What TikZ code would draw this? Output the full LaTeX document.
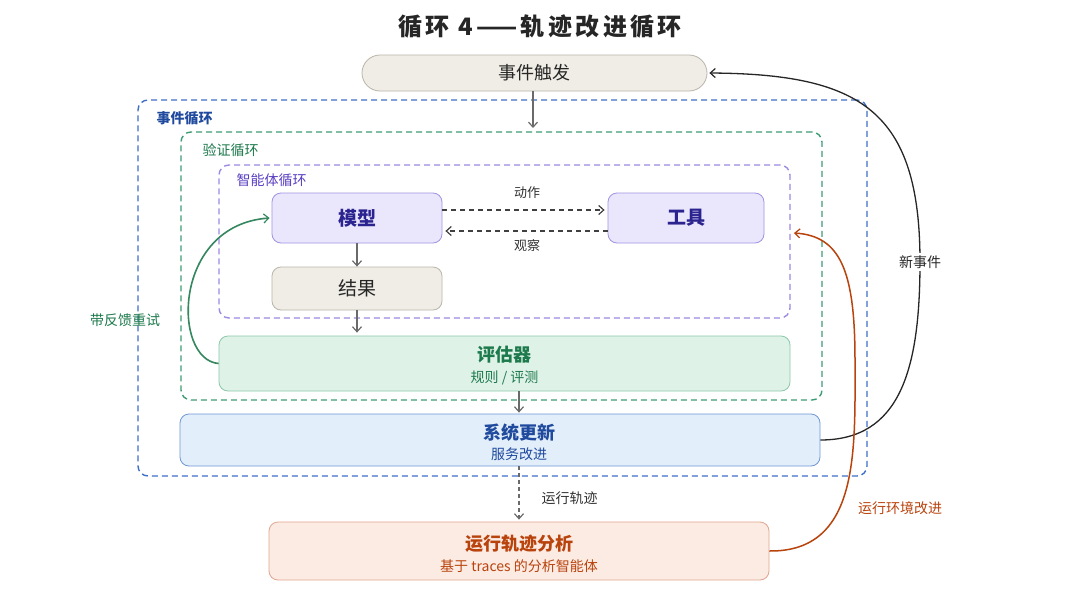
\documentclass[tikz,border=0pt]{standalone}
\usepackage{fontspec}
\setmainfont{Noto Sans CJK SC}
\usetikzlibrary{arrows.meta}
\definecolor{cBlue}{HTML}{3F70C8}
\definecolor{cBlueT}{HTML}{1F4A9E}
\definecolor{cGreen}{HTML}{3E9C74}
\definecolor{cGreenT}{HTML}{1D7A4C}
\definecolor{cPurp}{HTML}{9D8AE2}
\definecolor{cPurpT}{HTML}{5A3EC2}
\definecolor{cNavy}{HTML}{2B2390}
\definecolor{cOrange}{HTML}{B9430D}
\definecolor{fBeige}{HTML}{EFEDE5}
\definecolor{bBeige}{HTML}{B9B5AA}
\definecolor{fLav}{HTML}{EAE7FC}
\definecolor{bLav}{HTML}{A293E3}
\definecolor{fGreen}{HTML}{DFF2E8}
\definecolor{bGreen}{HTML}{8DC8A9}
\definecolor{fBlue}{HTML}{E3EEFB}
\definecolor{bBlue}{HTML}{7098D4}
\definecolor{fOr}{HTML}{FCEBE3}
\definecolor{bOr}{HTML}{E0A690}
\definecolor{cArrow}{HTML}{6A6A6A}
\tikzset{
  tip/.style={-{Straight Barb[length=5pt,width=9pt,line width=1.2pt]}},
  container/.style={draw, dashed, dash pattern=on 6pt off 4pt, line width=1.4pt, rounded corners=10pt, inner sep=0pt},
  box/.style={draw, line width=0.8pt, rounded corners=9pt, inner sep=0pt, align=center},
  bigtxt/.style={font=\fontsize{18}{20}\selectfont},
  lbl/.style={font=\fontsize{14}{16}\selectfont},
  grp/.style={font=\fontsize{14}{16}\selectfont, anchor=west},
  flow/.style={draw=cArrow, line width=1.2pt, tip},
}
\begin{document}
\begin{tikzpicture}[x=1pt,y=-1pt]
\useasboundingbox (0,0) rectangle (1080,608);
\fill[white] (0,0) rectangle (1080,608);
% title
\node[font=\fontsize{24}{28}\selectfont\bfseries\addfontfeature{LetterSpace=14}, text=black!85] (title) at (540,26) {循环 4——轨迹改进循环};
% containers
\node[container, draw=cBlue, minimum width=729pt, minimum height=376pt] (evloop) at (502.5,288) {};
\node[grp, text=cBlueT, font=\fontsize{14}{16}\selectfont\bfseries] (evlbl) at (153,118) {事件循环};
\node[container, draw=cGreen, minimum width=641pt, minimum height=268pt] (vloop) at (501.5,266) {};
\node[grp, text=cGreenT] (vlbl) at (199,150) {验证循环};
\node[container, draw=cPurp, minimum width=571pt, minimum height=153pt] (aloop) at (504.5,241.5) {};
\node[grp, text=cPurpT] (albl) at (233,180) {智能体循环};
% nodes
\node[box, fill=fBeige, draw=bBeige, rounded corners=18pt, minimum width=345pt, minimum height=36pt, bigtxt, text=black!85] (trigger) at (534.5,73) {事件触发};
\node[box, fill=fLav, draw=bLav, minimum width=170pt, minimum height=50pt, text=cNavy, font=\fontsize{19}{20}\selectfont\bfseries] (model) at (357,218) {模型};
\node[box, fill=fLav, draw=bLav, minimum width=156pt, minimum height=50pt, text=cNavy, font=\fontsize{19}{20}\selectfont\bfseries] (tool) at (686,218) {工具};
\node[box, fill=fBeige, draw=bBeige, minimum width=170pt, minimum height=43pt, font=\fontsize{19}{20}\selectfont, text=black!85] (res) at (357,288.5) {结果};
\node[box, fill=fGreen, draw=bGreen, minimum width=571pt, minimum height=55pt] (eval) at (504.5,363.5) {};
\node[text=cGreenT, font=\fontsize{18}{20}\selectfont\bfseries] (evalt) at (504.5,355) {评估器};
\node[text=cGreenT, lbl] (evals) at (504.5,378) {规则 / 评测};
\node[box, fill=fBlue, draw=bBlue, minimum width=640pt, minimum height=52pt] (sys) at (500,440) {};
\node[text=cBlueT, font=\fontsize{18}{20}\selectfont\bfseries] (syst) at (519,433) {系统更新};
\node[text=cBlueT, lbl] (syss) at (519,454) {服务改进};
\node[box, fill=fOr, draw=bOr, minimum width=500pt, minimum height=58pt] (trace) at (519,551) {};
\node[text=cOrange, font=\fontsize{18}{20}\selectfont\bfseries] (tracet) at (519,544) {运行轨迹分析};
\node[text=cOrange, lbl] (traces) at (519,566) {基于 traces 的分析智能体};
% straight arrows
\coordinate (vtop) at (533,128);
\draw[flow] (trigger.south -| vtop) -- (vtop);
\draw[flow] (model.south) -- (res.north);
\draw[flow] (res.south) -- ([yshift=3pt]res.south |- eval.north);
\draw[flow] (eval.south -| trace.north) -- ([yshift=1pt]sys.north -| trace.north);
\draw[flow, dashed, dash pattern=on 4pt off 3pt] (sys.south -| trace.north) -- ([yshift=2pt]trace.north);
\node[lbl, anchor=west, text=black!80] (rtl) at (538,498) {运行轨迹};
% action / observe
\draw[draw=black!75, line width=1.3pt, dash pattern=on 5pt off 4pt, tip] ([yshift=8pt]model.east) -- ([xshift=-3pt,yshift=8pt]tool.west);
\draw[draw=black!75, line width=1.3pt, dash pattern=on 5pt off 4pt, tip] ([yshift=-13pt]tool.west) -- ([xshift=3pt,yshift=-13pt]model.east);
\node[font=\fontsize{13}{15}\selectfont, text=black!80] (act) at (527,193) {动作};
\node[font=\fontsize{13}{15}\selectfont, text=black!80] (obs) at (527,246) {观察};
% retry curve
\draw[draw=cGreenT!90, line width=1.6pt, tip] (eval.west) .. controls (172,360) and (172,225) .. ([xshift=-2pt]model.west);
\node[text=cGreenT, font=\fontsize{14}{16}\selectfont] (retry) at (125,320) {带反馈重试};
% new event curve
\coordinate (ne) at (920,262);
\draw[draw=black!85, line width=1.3pt] (sys.east) .. controls (900,440) and (920,370) .. (ne);
\draw[draw=black!85, line width=1.3pt, tip] (ne) .. controls (920,110) and (860,74) .. ([xshift=2pt]trigger.east);
\node[fill=white, inner sep=3pt, font=\fontsize{14}{16}\selectfont, text=black!85] (nel) at (ne) {新事件};
% environment improvement
\coordinate (envend) at (794,233);
\draw[draw=cOrange, line width=1.5pt, tip] (trace.east) .. controls (860,552) and (855,450) .. (855,360) .. controls (855,270) and (840,236) .. (envend);
\node[text=cOrange, font=\fontsize{14}{16}\selectfont] (envl) at (900,508) {运行环境改进};
\end{tikzpicture}
\end{document}
